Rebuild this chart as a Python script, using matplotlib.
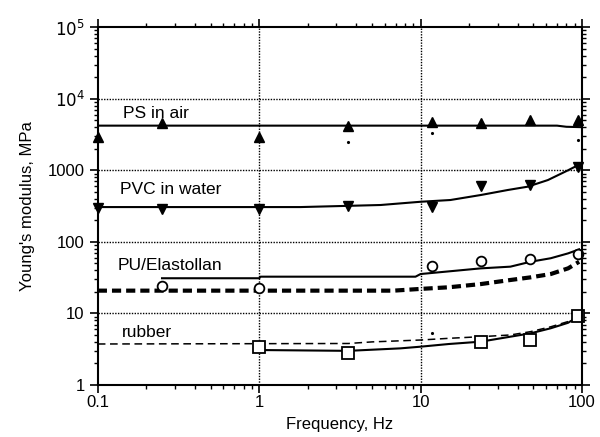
import numpy as np
import matplotlib
matplotlib.use("Agg")
import matplotlib.pyplot as plt
from matplotlib.ticker import LogLocator, FixedLocator, FixedFormatter, NullFormatter

plt.rcParams['font.family'] = ['Liberation Sans', 'DejaVu Sans']

# PS in air
ps_fit_f = [0.1, 1, 10, 70, 80, 100]
ps_fit_E = [4200, 4200, 4200, 4200, 4050, 4000]
ps_f = [0.1, 0.25, 1, 3.57, 11.7, 23.6, 47.5, 94]
ps_E = [2900, 4600, 2900, 4200, 4700, 4600, 5000, 5000]

# PVC in water
pvc_fit_f = [0.1, 1.8, 5.65, 10, 15.3, 23.6, 34.7, 46, 61.5, 82, 94, 100]
pvc_fit_E = [306, 306, 327, 363, 384, 451, 530, 589, 730, 1000, 1170, 1100]
pvc_f = [0.1, 0.25, 1, 3.57, 11.7, 23.6, 47.5, 94]
pvc_E = [300, 285, 285, 320, 310, 608, 620, 1120]

# PU/Elastollan
pu_fit_f = [0.25, 1, 1.02, 9.3, 10, 23.6, 36, 48, 64, 82, 96]
pu_fit_E = [31, 31, 32.6, 32.6, 35.5, 42.6, 45, 52.7, 59, 69, 78.5]
pu_dash_f = [0.1, 6.8, 10, 15, 23.6, 36, 48, 64, 82, 96]
pu_dash_E = [20.8, 20.8, 22, 23.2, 25.7, 29.3, 31.9, 35.5, 42.6, 52.7]
pu_f = [0.25, 1, 11.7, 23.6, 47.5, 94]
pu_E = [24, 22.4, 46, 54.5, 57.5, 67]

# rubber
rub_dash_f = [0.1, 3.57, 5, 10, 15, 23.6, 36, 48, 64, 82, 96]
rub_dash_E = [3.74, 3.8, 4.0, 4.25, 4.49, 4.73, 5.0, 5.56, 6.5, 7.7, 9.5]
rub_fit_f = [1, 3.57, 7.5, 10, 15, 23.6, 36, 48, 64, 82, 96]
rub_fit_E = [3.08, 3.0, 3.25, 3.43, 3.74, 4.03, 4.73, 5.27, 6.2, 7.4, 9.2]
rub_f = [1, 3.57, 23.6, 47.5, 94]
rub_E = [3.43, 2.82, 4.03, 4.25, 9.2]

# stray small points
dot_f = [3.57, 11.7, 94, 11.7]
dot_E = [2500, 3300, 2650, 5.3]

fig = plt.figure(figsize=(6, 4.37), dpi=100)
ax = fig.add_axes([0.163, 0.119, 0.807, 0.819])
ax.set_xscale('log')
ax.set_yscale('log')
ax.set_xlim(0.1, 100)
ax.set_ylim(1, 1e5)

for v in [1, 10]:
    ax.axvline(v, color='black', linestyle=(0, (1, 1)), linewidth=1)
for v in [10, 100, 1000, 1e4]:
    ax.axhline(v, color='black', linestyle=(0, (1, 1)), linewidth=1)

ax.plot(ps_fit_f, ps_fit_E, color='black', linewidth=1.5)
ax.plot(ps_f, ps_E, linestyle='none', marker='^', color='black', markersize=6.5, clip_on=False)

ax.plot(pvc_fit_f, pvc_fit_E, color='black', linewidth=1.5)
ax.plot(pvc_f, pvc_E, linestyle='none', marker='v', color='black', markersize=6.5, clip_on=False)

ax.plot(pu_fit_f, pu_fit_E, color='black', linewidth=1.5)
ax.plot(pu_dash_f, pu_dash_E, color='black', linewidth=3, linestyle=(0, (2.2, 1.2)))
ax.plot(pu_f, pu_E, linestyle='none', marker='o', markerfacecolor='white',
        markeredgecolor='black', markersize=7, markeredgewidth=1.3, clip_on=False)

ax.plot(rub_dash_f, rub_dash_E, color='black', linewidth=1.1, linestyle=(0, (5, 3)))
ax.plot(rub_fit_f, rub_fit_E, color='black', linewidth=1.5)
ax.plot(rub_f, rub_E, linestyle='none', marker='s', markerfacecolor='white',
        markeredgecolor='black', markersize=8, markeredgewidth=1.3, clip_on=False)

ax.plot(dot_f, dot_E, linestyle='none', marker='.', color='black', markersize=2.5)

ax.text(0.143, 6300, 'PS in air', fontsize=12.5, va='center')
ax.text(0.137, 546, 'PVC in water', fontsize=12.5, va='center')
ax.text(0.133, 47, 'PU/Elastollan', fontsize=12.5, va='center')
ax.text(0.141, 5.4, 'rubber', fontsize=12.5, va='center')

ax.yaxis.set_major_locator(FixedLocator([1, 10, 100, 1000, 1e4, 1e5]))
ax.yaxis.set_major_formatter(FixedFormatter(['1', '10', '100', '1000', '$10^4$', '$10^5$']))
ax.xaxis.set_major_locator(FixedLocator([0.1, 1, 10, 100]))
ax.xaxis.set_major_formatter(FixedFormatter(['0.1', '1', '10', '100']))
ax.xaxis.set_minor_locator(LogLocator(subs=np.arange(2, 10)))
ax.yaxis.set_minor_locator(LogLocator(subs=np.arange(2, 10)))
ax.xaxis.set_minor_formatter(NullFormatter())
ax.yaxis.set_minor_formatter(NullFormatter())

ax.tick_params(which='both', direction='out', top=True, right=True, labelsize=12)
ax.tick_params(which='major', length=6, width=1.2)
ax.tick_params(which='minor', length=3, width=1)
ax.tick_params(axis='x', which='major', pad=1)
for s in ax.spines.values():
    s.set_linewidth(1.5)

ax.set_xlabel('Frequency, Hz', fontsize=12, labelpad=5)
ax.set_ylabel("Young's modulus, MPa", fontsize=12, labelpad=9)

fig.savefig('out.png', dpi=100)
